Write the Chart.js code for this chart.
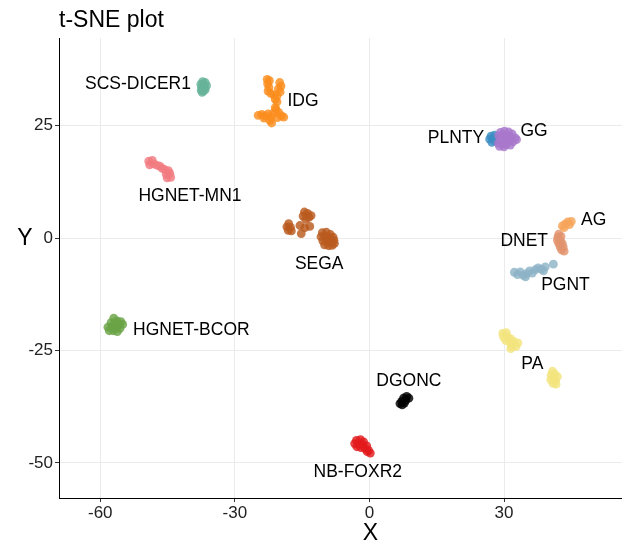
<!DOCTYPE html>
<html>
<head>
<meta charset="utf-8">
<script src="https://cdn.jsdelivr.net/npm/chart.js@4.4.1/dist/chart.umd.min.js"></script>
<style>
  html, body { margin: 0; padding: 0; background: #ffffff; }
  canvas { display: block; }
</style>
</head>
<body>
<canvas id="c" width="622" height="549"></canvas>
<script>
// ---- data ----
const categories = ["AG","DGONC","DNET","GG","HGNET-BCOR","HGNET-MN1","IDG","NB-FOXR2","PA","PGNT","PLNTY","SCS-DICER1","SEGA"];
const colors = ["#f6a55a","#000000","#e2946e","#a877cc","#6aa345","#f27b80","#fb8d1e","#e31a1c","#f3e47e","#8db3c7","#3c8dc5","#66b39a","#b95a1f"];

const AG = [[43.0,2.7],[43.6,3.1],[44.2,3.6],[45.0,3.7],[44.6,3.0],[43.4,2.3]];
const DGONC = [[8.3,-35.2],[8.8,-35.6],[7.6,-35.6],[8.1,-36.1],[7.2,-36.3],[7.8,-36.7],[6.8,-36.8],[7.3,-37.1]];
const DNET = [[42.2,0.9],[42.0,0.2],[42.7,0.4],[41.9,-0.5],[42.6,-0.6],[42.2,-1.2],[43.0,-1.2],[42.5,-1.9],[43.2,-2.0],[42.8,-2.6],[43.4,-2.9]];
const GG = [[29.2,23.5],[30.1,23.8],[31.0,23.6],[31.8,23.2],[28.8,22.8],[29.7,22.9],[30.6,22.7],[31.5,22.5],[32.5,22.3],[29.2,21.9],[30.2,21.8],[31.1,21.6],[32.0,21.4],[28.7,21.1],[29.6,20.9],[30.5,20.8],[31.4,20.7],[29.0,20.4],[30.0,20.3],[32.8,21.9]];
const HGNET_BCOR = [[-57.0,-17.8],[-56.3,-18.4],[-55.4,-18.6],[-57.6,-18.8],[-56.8,-19.0],[-55.8,-19.3],[-55.0,-19.2],[-58.3,-19.8],[-57.4,-19.7],[-56.5,-19.9],[-55.6,-20.1],[-58.0,-20.6],[-57.1,-20.6],[-56.2,-20.8]];
const HGNET_MN1 = [[-49.2,17.1],[-48.4,17.3],[-49.0,16.3],[-48.2,16.5],[-47.4,16.2],[-46.7,16.0],[-46.2,15.5],[-45.6,15.2],[-44.8,15.0],[-45.3,14.2],[-44.5,14.4],[-45.1,13.4],[-44.3,13.5]];
const IDG = [[-22.8,35.3],[-22.3,35.0],[-22.7,34.3],[-22.4,33.5],[-22.6,32.7],[-22.0,32.2],[-20.0,34.6],[-19.7,33.8],[-20.3,33.2],[-19.9,32.5],[-21.3,31.8],[-20.6,31.6],[-21.0,30.9],[-20.6,30.3],
             [-24.8,27.3],[-24.0,27.5],[-23.3,27.2],[-22.6,27.6],[-22.0,27.0],[-21.4,27.8],[-20.8,28.6],[-20.2,27.9],[-19.6,27.2],[-19.1,26.9],[-20.5,26.8],[-22.2,26.2],[-21.8,25.6],[-23.5,26.7],[-21.0,29.0]];
const NB_FOXR2 = [[-2.9,-45.0],[-2.0,-44.8],[-1.3,-45.3],[-3.3,-45.7],[-2.4,-45.8],[-1.5,-46.0],[-0.6,-46.2],[-2.8,-46.4],[-1.9,-46.6],[-1.0,-46.8],[-0.2,-47.2],[0.2,-47.8],[-0.5,-47.5]];
const PA = [[29.7,-21.2],[30.5,-21.0],[29.9,-22.0],[30.8,-21.9],[31.5,-22.4],[30.4,-22.8],[31.3,-23.2],[32.2,-23.0],[33.1,-23.3],[31.8,-24.0],[32.7,-24.1],[31.5,-24.6],
            [40.8,-29.6],[41.3,-30.2],[40.5,-30.5],[41.9,-30.8],[41.0,-31.1],[40.4,-31.5],[41.5,-31.7],[40.9,-32.3],[41.6,-32.5]];
const PGNT = [[32.3,-7.6],[33.0,-8.1],[33.6,-7.5],[34.3,-8.3],[35.0,-7.9],[35.7,-7.3],[36.3,-7.8],[37.0,-7.0],[37.6,-6.6],[38.3,-6.9],[39.2,-6.4],[41.0,-5.8],[38.8,-7.3],[34.8,-8.6]];
const PLNTY = [[27.1,22.7],[27.9,22.9],[26.8,22.0],[27.6,22.1],[27.3,21.3],[28.0,21.6]];
const SCS_DICER1 = [[-37.2,34.8],[-36.6,34.6],[-37.6,34.2],[-36.9,34.1],[-36.3,33.9],[-37.4,33.5],[-36.8,33.4],[-37.5,32.9],[-37.0,32.7],[-36.6,33.0],[-37.3,32.4]];
const SEGA = [[-14.5,5.8],[-13.8,5.5],[-14.8,4.9],[-13.5,4.6],[-14.2,4.2],[-13.0,5.0],
              [-15.5,2.8],[-14.4,2.3],[-13.3,2.6],[-15.2,1.0],
              [-18.0,3.2],[-18.4,2.5],[-17.6,2.4],[-18.1,1.7],[-17.4,1.6],
              [-10.5,1.2],[-9.6,1.3],[-8.7,0.8],[-10.8,0.3],[-9.9,0.4],[-9.0,0.0],[-8.1,0.2],[-10.4,-0.6],[-9.5,-0.7],[-8.5,-0.8],[-7.9,-0.5],[-10.0,-1.5],[-9.1,-1.7],[-8.3,-1.6],[-7.8,-1.2]];

const clusterPoints = [AG, DGONC, DNET, GG, HGNET_BCOR, HGNET_MN1, IDG, NB_FOXR2, PA, PGNT, PLNTY, SCS_DICER1, SEGA];

// label anchor positions (data units)
const labelX = [50.0, 8.8, 34.5, 36.7, -39.7, -40.0, -14.8, -2.6, 36.3, 43.7, 19.3, -51.6, -11.2];
const labelY = [4.1, -31.6, -0.4, 24.0, -20.2, 9.6, 30.7, -51.8, -27.9, -10.2, 22.4, 34.5, -5.6];

const xTicks = [-60, -30, 0, 30];
const yTicks = [-50, -25, 0, 25];
const xRange = [-69.2, 56.3];
const yRange = [-57.8, 44.5];

function hexA(hex, a) {
  const n = parseInt(hex.slice(1), 16);
  return `rgba(${(n>>16)&255},${(n>>8)&255},${n&255},${a})`;
}

const FONT = "'Liberation Sans', Arial, Helvetica, sans-serif";

const datasets = categories.map((c, i) => ({
  label: c,
  data: clusterPoints[i].map(p => ({x: p[0], y: p[1]})),
  backgroundColor: hexA(colors[i], 0.82),
  borderColor: hexA(colors[i], 0.82),
  borderWidth: 0,
  pointRadius: 4.4,
  pointHoverRadius: 4.4
}));

const labelPlugin = {
  id: 'clusterLabels',
  afterDatasetsDraw(chart) {
    const ctx = chart.ctx;
    const xs = chart.scales.x, ys = chart.scales.y;
    ctx.save();
    ctx.fillStyle = '#000';
    ctx.font = `17.5px ${FONT}`;
    ctx.textAlign = 'center';
    ctx.textBaseline = 'middle';
    categories.forEach((c, i) => {
      ctx.fillText(c, xs.getPixelForValue(labelX[i]), ys.getPixelForValue(labelY[i]) + 1);
    });
    // axis titles
    ctx.font = `23px ${FONT}`;
    ctx.fillText('X', xs.getPixelForValue(0) + 1, 534);
    ctx.fillText('Y', 25, ys.getPixelForValue(0) + 1);
    ctx.restore();
  }
};

new Chart(document.getElementById('c'), {
  type: 'scatter',
  data: { datasets },
  options: {
    responsive: false,
    devicePixelRatio: 1,
    animation: false,
    layout: { autoPadding: false, padding: { left: 0, right: 0, top: 0, bottom: 0 } },
    plugins: {
      legend: { display: false },
      tooltip: { enabled: false },
      title: {
        display: true,
        text: 't-SNE plot',
        align: 'start',
        fullSize: false,
        color: '#000',
        font: { family: FONT, size: 23, weight: 'normal' },
        padding: { top: 7, bottom: 3.4 }
      }
    },
    scales: {
      x: {
        type: 'linear',
        min: xRange[0], max: xRange[1],
        afterBuildTicks(s) { s.ticks = xTicks.map(v => ({ value: v })); },
        afterFit(s) { s.height = 51; },
        grid: { color: '#ebebeb', lineWidth: 1, tickColor: '#333', tickLength: 4, drawTicks: true },
        border: { display: true, color: '#000', width: 1 },
        ticks: { color: '#222', padding: 1, font: { family: FONT, size: 17 }, maxRotation: 0 }
      },
      y: {
        type: 'linear',
        min: yRange[0], max: yRange[1],
        afterBuildTicks(s) { s.ticks = yTicks.map(v => ({ value: v })); },
        afterFit(s) { s.width = 59; },
        grid: { color: '#ebebeb', lineWidth: 1, tickColor: '#333', tickLength: 4, drawTicks: true },
        border: { display: true, color: '#000', width: 1 },
        ticks: { color: '#222', padding: 2, font: { family: FONT, size: 17 } }
      }
    }
  },
  plugins: [labelPlugin]
});
</script>
</body>
</html>
